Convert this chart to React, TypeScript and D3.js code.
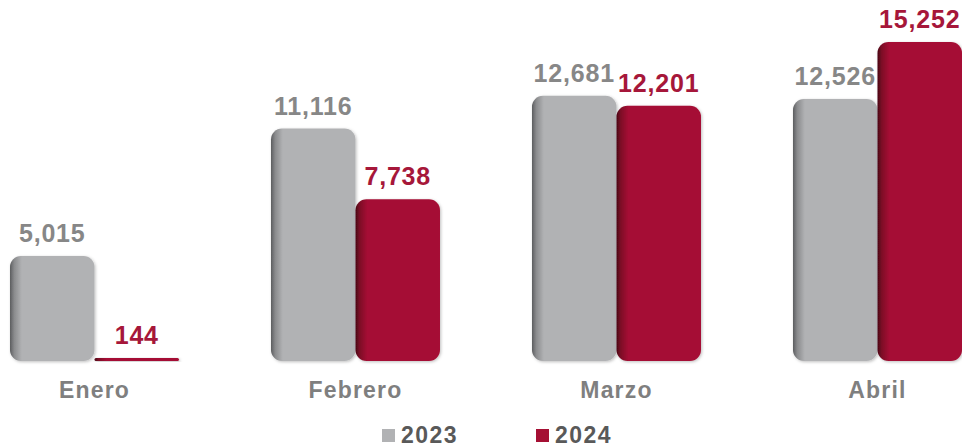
import React from 'react'
import * as d3 from 'd3'

const months = ['Enero', 'Febrero', 'Marzo', 'Abril']
const series = ['2023', '2024']
const values2023 = [5015, 11116, 12681, 12526]
const values2024 = [144, 7738, 12201, 15252]

const W = 962
const H = 448
const baseY = 361
const topY = 42

const colors: Record<string, { base: string; dark: string; mid: string; label: string }> = {
  '2023': { base: '#b1b2b4', mid: '#8a8b8d', dark: '#5c5d5f', label: '#878787' },
  '2024': { base: '#a51034', mid: '#7d0b26', dark: '#480515', label: '#a6173a' },
}

const fmt = d3.format(',')

export default function App() {
  const x0 = d3.scaleBand<string>().domain(months).range([10, W]).paddingInner(0.3525).paddingOuter(0)
  const x1 = d3.scaleBand<string>().domain(series).range([0, x0.bandwidth()]).padding(0)
  const y = d3.scaleLinear().domain([0, d3.max(values2024.concat(values2023)) as number]).range([baseY, topY])

  const rows = months.map((m, i) => ({ month: m, vals: [values2023[i], values2024[i]] }))

  return (
    <svg width={W} height={H} style={{ position: 'absolute', left: 0, top: 0 }} fontFamily="'Liberation Sans', Arial, sans-serif">
      <defs>
        {series.map(s => (
          <linearGradient key={s} id={'g' + s} x1="0" x2="1" y1="0" y2="0">
            <stop offset="0%" stopColor={colors[s].dark} />
            <stop offset="5%" stopColor={colors[s].mid} />
            <stop offset="14%" stopColor={colors[s].base} />
            <stop offset="100%" stopColor={colors[s].base} />
          </linearGradient>
        ))}
        <filter id="shadow" x="-10%" y="-10%" width="120%" height="120%">
          <feDropShadow dx="1" dy="1" stdDeviation="1.5" floodColor="#000" floodOpacity="0.25" />
        </filter>
      </defs>

      {rows.map(r => (
        <g key={r.month} transform={`translate(${x0(r.month)},0)`}>
          {r.vals.map((v, j) => {
            const s = series[j]
            const h = baseY - y(v)
            const rx = Math.min(11, h / 2)
            return (
              <g key={s}>
                <rect
                  x={x1(s)}
                  y={y(v)}
                  width={x1.bandwidth()}
                  height={Math.max(h, 3)}
                  rx={rx}
                  ry={rx}
                  fill={`url(#g${s})`}
                  filter="url(#shadow)"
                />
                <text
                  x={(x1(s) as number) + x1.bandwidth() / 2}
                  y={y(v) - 14}
                  textAnchor="middle"
                  fontSize={25}
                  fontWeight="bold"
                  letterSpacing={0.8}
                  fill={colors[s].label}
                >
                  {fmt(v)}
                </text>
              </g>
            )
          })}
          <text
            x={x0.bandwidth() / 2}
            y={398}
            textAnchor="middle"
            fontSize={23}
            fontWeight="bold"
            letterSpacing={1.2}
            fill="#7f7f7f"
          >
            {r.month}
          </text>
        </g>
      ))}

      <g>
        {series.map((s, i) => {
          const lx = 382 + i * 154
          return (
            <g key={s}>
              <rect x={lx} y={429} width={13} height={13} fill={colors[s].base} />
              <text x={lx + 19} y={443} fontSize={23} fontWeight="bold" letterSpacing={1.5} fill="#595959">
                {s}
              </text>
            </g>
          )
        })}
      </g>
    </svg>
  )
}
